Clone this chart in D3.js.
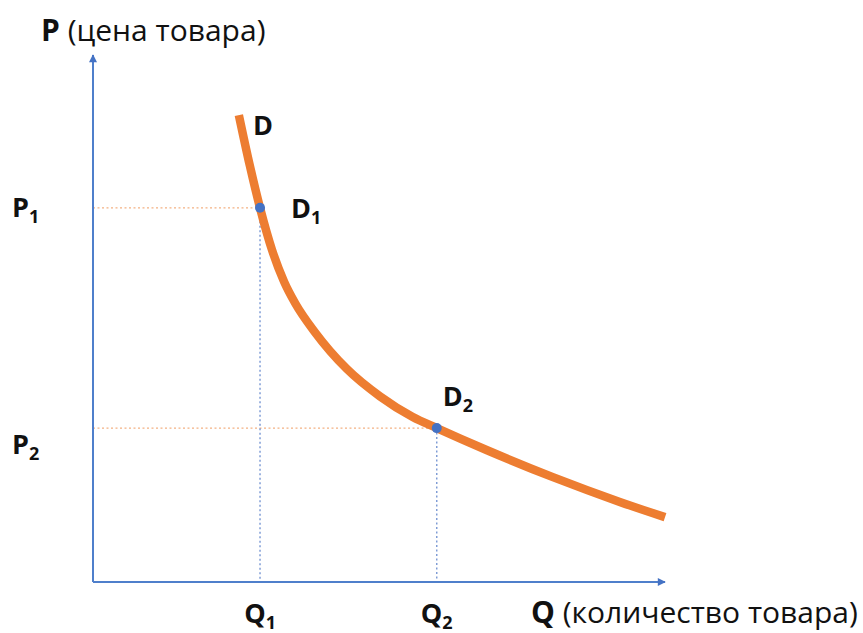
<!DOCTYPE html>
<html lang="ru">
<head>
<meta charset="utf-8">
<title>Кривая спроса</title>
<script src="https://d3js.org/d3.v7.min.js"></script>
<style>
  body { margin: 0; background: #fff; }
  svg text { font-family: "Open Sans", Lato, sans-serif; fill: #111; }
  .axis-line { stroke: #4F7FCB; stroke-width: 2; fill: none; }
  .demand { fill: none; stroke: #ED7D31; stroke-width: 8.5; }
  .guide-h { stroke: #F4B183; stroke-width: 1.3; stroke-dasharray: 2,2.5; }
  .guide-v { stroke: #6E8FD0; stroke-width: 1.3; stroke-dasharray: 2,2.5; }
</style>
</head>
<body>
<script>
// demand curve (Q, P in 0..100 units)
var demandQ = [25.5, 27.4, 29.2, 31.3, 33.4, 35.4, 38.8, 44.4, 50.2, 55.9, 60.1, 68.9, 80.4, 92.1, 100];
var demandP = [88.6, 79.1, 71.0, 63.0, 57.0, 52.8, 47.4, 40.4, 35.2, 31.3, 29.2, 25.0, 19.9, 15.2, 12.3];

// marked points
var pointNames = ["1", "2"];
var pointQ = [29.2, 60.1];
var pointP = [71.0, 29.2];

var w = 863, h = 633;

var xScale = d3.scaleLinear().domain([0, 100]).range([93, 665]);
var yScale = d3.scaleLinear().domain([0, 100]).range([582, 55]);

var svg = d3.select("body").append("svg")
    .attr("width", w)
    .attr("height", h);

// arrow head
svg.append("defs").append("marker")
    .attr("id", "arrow")
    .attr("viewBox", "0 0 10 10")
    .attr("refX", 9).attr("refY", 5)
    .attr("markerWidth", 9).attr("markerHeight", 8)
    .attr("markerUnits", "userSpaceOnUse")
    .attr("orient", "auto")
  .append("path")
    .attr("d", "M0,0 L10,5 L0,10 Z")
    .attr("fill", "#4472C4");

var pts = pointQ.map(function(q, i) { return { name: pointNames[i], q: q, p: pointP[i] }; });

// guide lines
svg.selectAll(".guide-h").data(pts).enter().append("line")
    .attr("class", "guide-h")
    .attr("x1", xScale(0)).attr("x2", function(d) { return xScale(d.q); })
    .attr("y1", function(d) { return yScale(d.p); })
    .attr("y2", function(d) { return yScale(d.p); });

svg.selectAll(".guide-v").data(pts).enter().append("line")
    .attr("class", "guide-v")
    .attr("x1", function(d) { return xScale(d.q); })
    .attr("x2", function(d) { return xScale(d.q); })
    .attr("y1", function(d) { return yScale(d.p); })
    .attr("y2", yScale(0));

// axes
svg.append("path")
    .attr("class", "axis-line")
    .attr("d", "M" + xScale(0) + "," + yScale(0) + " V" + yScale(100))
    .attr("marker-end", "url(#arrow)");
svg.append("path")
    .attr("class", "axis-line")
    .attr("d", "M" + xScale(0) + "," + yScale(0) + " H" + xScale(100))
    .attr("marker-end", "url(#arrow)");

// demand curve
var curve = demandQ.map(function(q, i) { return [q, demandP[i]]; });
var line = d3.line()
    .x(function(d) { return xScale(d[0]); })
    .y(function(d) { return yScale(d[1]); })
    .curve(d3.curveMonotoneX);

svg.append("path")
    .datum(curve)
    .attr("class", "demand")
    .attr("d", line);

svg.selectAll(".dot").data(pts).enter().append("circle")
    .attr("class", "dot")
    .attr("cx", function(d) { return xScale(d.q); })
    .attr("cy", function(d) { return yScale(d.p); })
    .attr("r", 5)
    .attr("fill", "#4472C4");

// labels
function subLabel(x, y, main, sub, anchor) {
    var t = svg.append("text")
        .attr("x", x).attr("y", y)
        .attr("text-anchor", anchor || "start")
        .style("font-size", "27px")
        .style("font-weight", "bold");
    t.append("tspan").text(main);
    if (sub) {
        t.append("tspan")
            .attr("dy", 6)
            .style("font-size", "18px")
            .text(sub);
    }
    return t;
}

// axis titles
var yt = svg.append("text").attr("x", 41).attr("y", 41).style("font-size", "30px");
yt.append("tspan").style("font-weight", "bold").text("P");
yt.append("tspan").text(" (цена товара)");

var xt = svg.append("text").attr("x", 531).attr("y", 623).style("font-size", "30px");
xt.append("tspan").style("font-weight", "bold").text("Q");
xt.append("tspan").text(" (количество товара)");

// point labels
subLabel(253, 135, "D");
pts.forEach(function(d, i) {
    var px = xScale(d.q), py = yScale(d.p);
    subLabel(12, i === 0 ? py + 9 : py + 26, "P", d.name);
    subLabel(px, 623, "Q", d.name, "middle");
});
subLabel(xScale(pts[0].q) + 31, yScale(pts[0].p) + 10, "D", pts[0].name);
subLabel(xScale(pts[1].q) + 6, yScale(pts[1].p) - 22, "D", pts[1].name);
</script>
</body>
</html>
